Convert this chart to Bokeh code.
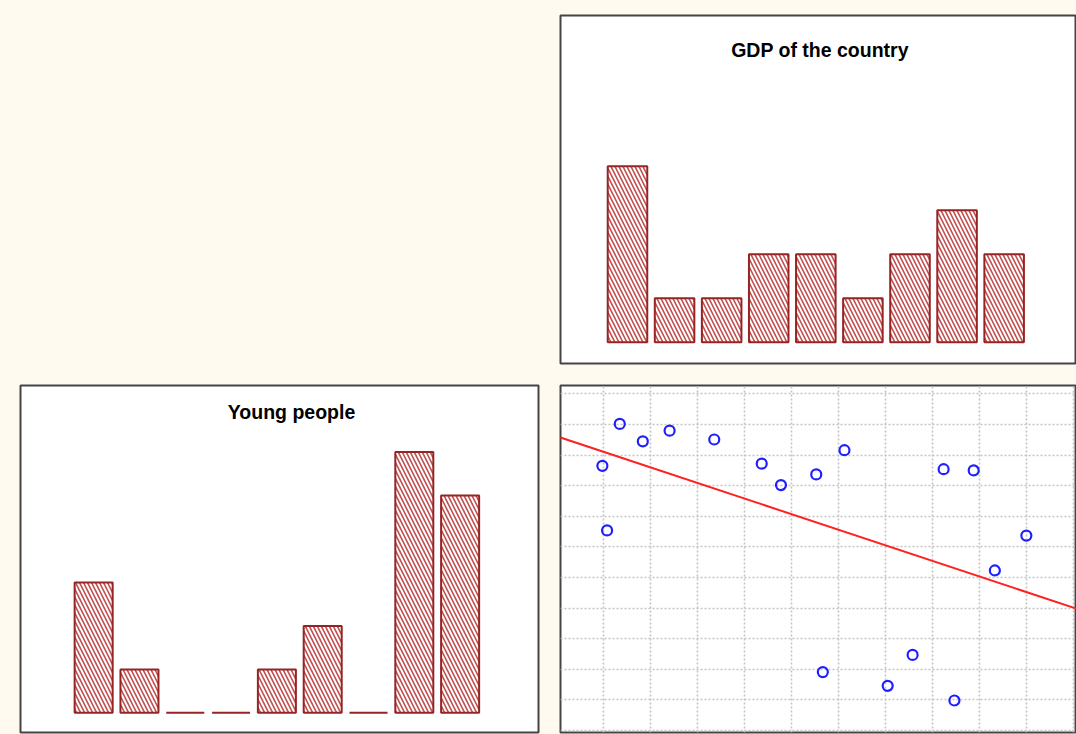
import numpy as np
from bokeh.plotting import figure
from bokeh.models import Range1d, Label, Grid, FixedTicker, Slope, Spacer
from bokeh.layouts import column, row
from bokeh.embed import file_html
from bokeh.resources import INLINE

# ---------------- data ----------------
bins = [1, 2, 3, 4, 5, 6, 7, 8, 9]
gdp_counts = [4, 1, 1, 2, 2, 1, 2, 3, 2]
young_counts = [3, 1, 0, 0, 1, 2, 0, 6, 5]

scatter_x = [0.97, 1.07, 1.34, 1.83, 2.40, 3.35, 4.36, 4.77, 5.52,
             6.12, 5.66, 7.04, 7.57, 8.23, 8.46, 8.87, 9.32, 9.99]
scatter_y = [8.65, 6.54, 10.02, 9.45, 9.80, 9.51, 8.72, 8.02, 8.37,
             9.16, 1.91, 1.46, 2.47, 8.54, 0.98, 8.50, 5.23, 6.37]

grid_x = [1, 2, 3, 4, 5, 6, 7, 8, 9, 10, 11]
grid_y = [0, 1, 2, 3, 4, 5, 6, 7, 8, 9, 10, 11]

title_gdp = "GDP of the country"
title_young = "Young people"

# ---------------- styles ----------------
BG = "#FFFAF0"
FRAME = "#444444"
BAR_LINE = "#962424"
HATCH = "#C04E4E"
FONT = "Liberation Sans"


def base_fig(w, h, xr, yr, ml, mr, mt, mb):
    p = figure(width=w, height=h, x_range=Range1d(*xr), y_range=Range1d(*yr),
               x_axis_type=None, y_axis_type=None, toolbar_location=None,
               output_backend="svg")
    p.title.text = ""
    p.title.visible = False
    p.min_border_left = ml
    p.min_border_right = mr
    p.min_border_top = mt
    p.min_border_bottom = mb
    p.border_fill_color = BG
    p.background_fill_color = "white"
    p.outline_line_color = FRAME
    p.outline_line_width = 2
    return p


def hist(p, counts, width):
    p.vbar(x=bins, top=counts, bottom=0, width=width,
           fill_color="white", line_color=BAR_LINE, line_width=2,
           hatch_pattern="\\", hatch_color=HATCH, hatch_scale=8,
           hatch_weight=1.6)


# top-right : GDP
p_top = base_fig(527, 373, (-0.423, 10.537), (-0.484, 7.425), 11, 0, 15, 10)
hist(p_top, gdp_counts, 0.84)
p_top.add_layout(Label(x=5.089, y=6.65, text=title_gdp, text_font=FONT,
                       text_font_size="19.5px", text_font_style="bold",
                       text_align="center", text_baseline="middle",
                       text_color="black"))

# bottom-left : Young people
p_bl = base_fig(549, 361, (-0.597, 10.711), (-0.452, 7.53), 20, 11, 11, 2)
hist(p_bl, young_counts, 0.83)
p_bl.add_layout(Label(x=5.319, y=6.93, text=title_young, text_font=FONT,
                      text_font_size="19.5px", text_font_style="bold",
                      text_align="center", text_baseline="middle",
                      text_color="black"))

# bottom-right : scatter with regression line
p_br = base_fig(527, 361, (0.079, 11.057), (-0.065, 11.275), 11, 0, 12, 2)
for dim, ticks in ((0, grid_x), (1, grid_y)):
    g = Grid(dimension=dim, ticker=FixedTicker(ticks=ticks),
             grid_line_color="#C4C4C4", grid_line_width=1.6,
             grid_line_dash="2 2")
    p_br.add_layout(g)

m, b = np.polyfit(scatter_x, scatter_y, 1)
p_br.add_layout(Slope(gradient=float(m), y_intercept=float(b),
                      line_color="#FF2020", line_width=2))
p_br.scatter(scatter_x, scatter_y, marker="circle", size=10,
             fill_color=None, line_color="#2020FF", line_width=2.2)

spacer = Spacer(width=549, height=373, styles={"background-color": BG})
layout = column(row(spacer, p_top), row(p_bl, p_br),
                styles={"background-color": BG})

open("out.html", "w").write(file_html(layout, INLINE))
